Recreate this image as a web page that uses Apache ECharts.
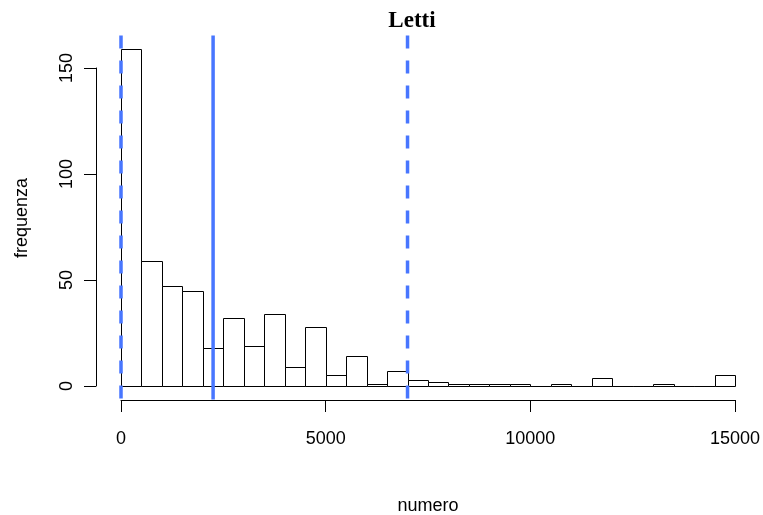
<!DOCTYPE html>
<html>
<head>
<meta charset="utf-8">
<script src="https://cdn.jsdelivr.net/npm/echarts@6/dist/echarts.min.js"></script>
<style>
  html, body { margin: 0; padding: 0; background: #fff; }
  #chart { width: 763px; height: 515px; }
</style>
</head>
<body>
<div id="chart"></div>
<script>
// histogram bins (left edges) and counts
const binWidth = 500;
const binStart = [0, 500, 1000, 1500, 2000, 2500, 3000, 3500, 4000, 4500,
                  5000, 5500, 6000, 6500, 7000, 7500, 8000, 8500, 9000, 9500,
                  10000, 10500, 11000, 11500, 12000, 12500, 13000, 13500, 14000, 14500];
const counts = [159, 59, 47, 45, 18, 32, 19, 34, 9, 28,
                5, 14, 1, 7, 3, 2, 1, 1, 1, 1,
                0, 1, 0, 4, 0, 0, 1, 0, 0, 5];

// vertical reference lines
const vlineValues = [0, 2250, 7000];
const vlineDashed = [true, false, true];

// R style plot region in y (4% padding around 0..159)
const usrY = [-6.36, 165.36];

const xTicks = [0, 5000, 10000, 15000];
const yTicks = [0, 50, 100, 150];

const sans = "'Liberation Sans', Arial, sans-serif";

const chart = echarts.init(document.getElementById('chart'));

const option = {
    animation: false,
    backgroundColor: '#fff',
    title: {
        text: 'Letti',
        left: 407,
        top: 5,
        textAlign: 'center',
        textStyle: {
            fontFamily: "'Liberation Serif', 'Times New Roman', serif",
            fontWeight: 'bold',
            fontSize: 23,
            color: '#000'
        }
    },
    grid: {
        left: 121,
        right: 28,
        top: 68,
        bottom: 129,
        outerBoundsMode: 'none',
        containLabel: false
    },
    xAxis: {
        type: 'value',
        min: xTicks[0],
        max: xTicks[xTicks.length - 1],
        interval: 5000,
        offset: 14,
        name: 'numero',
        nameLocation: 'middle',
        nameGap: 97,
        nameTextStyle: { fontFamily: sans, fontSize: 18, color: '#000' },
        axisLine: { show: true, onZero: false, lineStyle: { color: '#000', width: 1 } },
        axisTick: { show: true, length: 12, lineStyle: { color: '#000' } },
        axisLabel: {
            margin: 30, fontFamily: sans, fontSize: 18, color: '#000',
            formatter: function (v) { return String(v); }
        },
        splitLine: { show: false }
    },
    yAxis: {
        type: 'value',
        min: yTicks[0],
        max: yTicks[yTicks.length - 1],
        interval: 50,
        offset: 25,
        axisLine: { show: true, onZero: false, lineStyle: { color: '#000', width: 1 } },
        axisTick: { show: true, length: 12, lineStyle: { color: '#000' } },
        axisLabel: { rotate: 90, margin: 20, fontFamily: sans, fontSize: 18, color: '#000' },
        splitLine: { show: false }
    },
    graphic: [{
        type: 'text',
        x: 22,
        y: 218,
        rotation: Math.PI / 2,
        style: {
            text: 'frequenza',
            fontFamily: sans,
            fontSize: 18,
            fill: '#000',
            align: 'center',
            verticalAlign: 'middle'
        }
    }],
    series: [{
        type: 'custom',
        clip: false,
        data: binStart.map((s, i) => [s, s + binWidth, counts[i]]),
        renderItem: function (params, api) {
            const p0 = api.coord([api.value(0), api.value(2)]);
            const p1 = api.coord([api.value(1), 0]);
            return {
                type: 'rect',
                shape: {
                    x: Math.round(p0[0]) + 0.5,
                    y: Math.round(p0[1]) + 0.5,
                    width: Math.round(p1[0]) - Math.round(p0[0]),
                    height: Math.round(p1[1]) - Math.round(p0[1])
                },
                style: { fill: '#fff', stroke: '#000', lineWidth: 1 }
            };
        }
    }, {
        type: 'custom',
        clip: false,
        data: vlineValues.map((v, i) => [v, vlineDashed[i] ? 1 : 0]),
        renderItem: function (params, api) {
            const top = api.coord([api.value(0), usrY[1]]);
            const bot = api.coord([api.value(0), usrY[0]]);
            return {
                type: 'line',
                shape: { x1: top[0], y1: top[1], x2: bot[0], y2: bot[1] },
                style: {
                    stroke: '#4876FF',
                    lineWidth: 3.5,
                    lineDash: api.value(1) ? [13, 12] : null
                }
            };
        }
    }]
};

chart.setOption(option);
window.addEventListener('resize', function () {
    chart.resize();
});
</script>
</body>
</html>
